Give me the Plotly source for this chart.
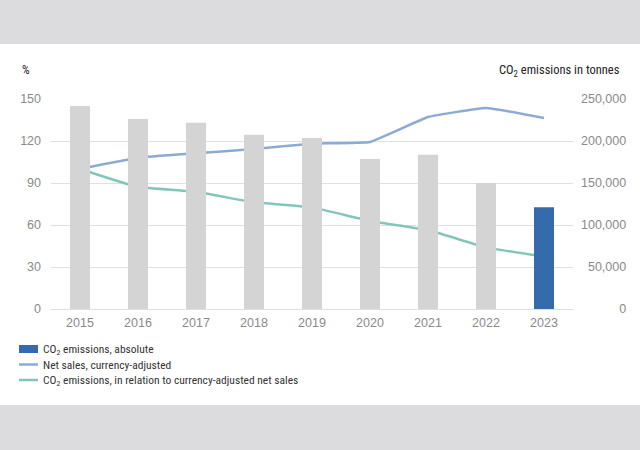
import plotly.graph_objects as go

years = ["2015", "2016", "2017", "2018", "2019", "2020", "2021", "2022", "2023"]
co2_absolute_t = [241700, 226200, 221800, 207500, 203600, 178600, 183700, 150000, 121000]
net_sales_pct = [100, 108, 111.2, 114.3, 118.1, 119.3, 137.1, 143.6, 136.4]
co2_relative_pct = [100, 87.1, 83.8, 76.2, 72.6, 62.9, 56.4, 44.0, 37.4]

left_ticks = [0, 30, 60, 90, 120, 150]
right_ticks = [0, 50000, 100000, 150000, 200000, 250000]
right_ticktext = ["0", "50,000", "100,000", "150,000", "200,000", "250,000"]

legend_names = [
    "CO<sub>2</sub> emissions, absolute",
    "Net sales, currency-adjusted",
    "CO<sub>2</sub> emissions, in relation to currency-adjusted net sales",
]

GRAY_BAR = "#d4d4d4"
BLUE_BAR = "#356aac"
NET_COLOR = "#8cabd3"
REL_COLOR = "#82c6bb"
GRID = "#e0e0e0"
TICK_COLOR = "#8a8a8a"
TEXT = "#222222"
NARROW = "Liberation Sans Narrow, Roboto Condensed, Liberation Sans, Arial, sans-serif"
REG = "Liberation Sans, Arial, sans-serif"

W, H = 640, 450
ML, MR, MT, MB = 51, 67, 99, 141
PW, PH = W - ML - MR, H - MT - MB


def px(x):
    return (x - ML) / PW


def py(y):
    return (H - MB - y) / PH


# right-aligned right tick labels using figure spaces
def pad(t):
    ref = right_ticktext[-1]
    n_digits_missing = sum(c.isdigit() for c in ref) - sum(c.isdigit() for c in t)
    n_comma_missing = ref.count(",") - t.count(",")
    return "\u2007" * n_digits_missing + "\u2008" * n_comma_missing + t

bar_colors = [GRAY_BAR] * (len(years) - 1) + [BLUE_BAR]

fig = go.Figure()
fig.add_trace(go.Bar(
    x=years, y=co2_absolute_t, yaxis="y2", marker=dict(color=bar_colors, line=dict(width=0)),
    width=0.345, name=legend_names[0], showlegend=False, hoverinfo="skip",
))
fig.add_trace(go.Scatter(
    x=years, y=net_sales_pct, mode="lines", line=dict(color=NET_COLOR, width=2.5, shape="spline", smoothing=0.3),
    name=legend_names[1], showlegend=False,
))
fig.add_trace(go.Scatter(
    x=years, y=co2_relative_pct, mode="lines", line=dict(color=REL_COLOR, width=2.5, shape="spline", smoothing=0.3),
    name=legend_names[2], showlegend=False,
))

shapes = [
    dict(type="rect", xref="paper", yref="paper", x0=px(0), x1=px(W), y0=py(0), y1=py(44),
         fillcolor="#dcdcde", line=dict(width=0), layer="above"),
    dict(type="rect", xref="paper", yref="paper", x0=px(0), x1=px(W), y0=py(405), y1=py(H),
         fillcolor="#dcdcde", line=dict(width=0), layer="above"),
]
# legend swatches
leg_y = [349, 364.5, 380]
shapes.append(dict(type="rect", xref="paper", yref="paper", x0=px(19), x1=px(38), y0=py(345), y1=py(353),
                   fillcolor=BLUE_BAR, line=dict(width=0)))
shapes.append(dict(type="line", xref="paper", yref="paper", x0=px(19), x1=px(38), y0=py(leg_y[1]), y1=py(leg_y[1]),
                   line=dict(color=NET_COLOR, width=2.5)))
shapes.append(dict(type="line", xref="paper", yref="paper", x0=px(19), x1=px(38), y0=py(leg_y[2]), y1=py(leg_y[2]),
                   line=dict(color=REL_COLOR, width=2.5)))

annotations = [
    dict(text="%", xref="paper", yref="paper", x=px(20), y=py(70), xanchor="left", yanchor="middle",
         showarrow=False, font=dict(family=NARROW, size=12, color=TEXT)),
    dict(text="CO<sub>2</sub> emissions in tonnes", xref="paper", yref="paper", x=px(622), y=py(70),
         xanchor="right", yanchor="middle", showarrow=False, font=dict(family=NARROW, size=12.5, color=TEXT)),
]
for name, yy in zip(legend_names, leg_y):
    annotations.append(dict(text=name, xref="paper", yref="paper", x=px(41), y=py(yy), xanchor="left",
                            yanchor="middle", showarrow=False, font=dict(family=NARROW, size=11.5, color="#333333")))

fig.update_layout(
    width=W, height=H, margin=dict(l=ML, r=MR, t=MT, b=MB),
    paper_bgcolor="white", plot_bgcolor="white", showlegend=False,
    font=dict(family=REG, size=12, color=TICK_COLOR),
    xaxis=dict(type="category", range=[-0.5, len(years) - 0.5], showgrid=False, showline=False, ticks="",
               tickfont=dict(size=12.5, color=TICK_COLOR), ticklabelstandoff=4),
    yaxis=dict(range=[0, 150], tickvals=left_ticks, showgrid=True, gridcolor=GRID, gridwidth=1,
               zeroline=True, zerolinecolor=GRID, zerolinewidth=1, showline=False, ticks="",
               tickfont=dict(size=12.5, color=TICK_COLOR), ticklabelstandoff=9),
    yaxis2=dict(range=[0, 250000], overlaying="y", side="right", tickvals=right_ticks,
                ticktext=[pad(t) for t in right_ticktext], showgrid=False, zeroline=False, showline=False,
                ticks="", tickfont=dict(size=12.5, color=TICK_COLOR), ticklabelstandoff=7),
    shapes=shapes, annotations=annotations,
)

fig.write_html("out.html", config={"displayModeBar": False},
               post_script="document.body.style.margin='0';document.body.style.overflow='hidden';")
